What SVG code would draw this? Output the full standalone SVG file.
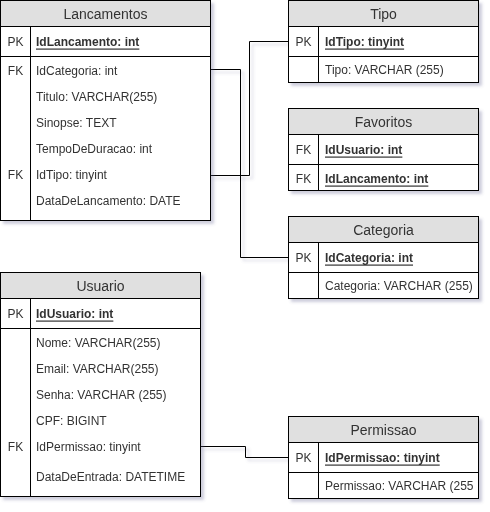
<svg xmlns="http://www.w3.org/2000/svg" width="490" height="512" viewBox="0 0 490 512">
<defs>
<filter id="sh" x="-10%" y="-10%" width="130%" height="130%">
<feDropShadow dx="3" dy="3" stdDeviation="1.5" flood-color="#5a5a8a" flood-opacity="0.3"/>
</filter>
</defs>
<style>
.tb{fill:#ffffff;stroke:#000000;stroke-width:1}
.hd{fill:#e0e0e0;stroke:#000000;stroke-width:1}
.ln{stroke:#000000;stroke-width:1;fill:none}
text{font-family:"Liberation Sans",Arial,Helvetica,sans-serif;font-size:12px;fill:#333333;dominant-baseline:central}
.h{font-size:14px;text-anchor:middle}
.k{text-anchor:middle}
.pk{font-weight:bold;text-decoration:underline}
.cn{stroke:#000000;stroke-width:1;fill:none}
</style>
<rect width="490" height="512" fill="#ffffff"/>

<g id="connectors" filter="url(#sh)">
<path class="cn" d="M210.5,69.5 H240.5 V257.5 H288.5"/>
<path class="cn" d="M210.5,175.5 H249.5 V41.5 H288.5"/>
<path class="cn" d="M200.5,446.5 H245.5 V457.5 H288.5"/>
</g>

<g id="Lancamentos" filter="url(#sh)">
<rect class="tb" x="0.5" y="0.5" width="210" height="220"/>
<rect class="hd" x="0.5" y="0.5" width="210" height="26"/>
<line class="ln" x1="0.5" y1="56.5" x2="210.5" y2="56.5"/>
<line class="ln" x1="30.5" y1="26.5" x2="30.5" y2="220.5"/>
<text class="h" x="105.5" y="14">Lancamentos</text>
<text class="k" x="15.5" y="41.5">PK</text>
<text class="pk" x="36" y="41.5">IdLancamento: int</text>
<text class="k" x="15.5" y="70.5">FK</text>
<text x="36" y="70.5">IdCategoria: int</text>
<text x="36" y="97">Titulo: VARCHAR(255)</text>
<text x="36" y="122.5">Sinopse: TEXT</text>
<text x="36" y="148.5">TempoDeDuracao: int</text>
<text class="k" x="15.5" y="174.5">FK</text>
<text x="36" y="174.5">IdTipo: tinyint</text>
<text x="36" y="201">DataDeLancamento: DATE</text>
</g>

<g id="Tipo" filter="url(#sh)">
<rect class="tb" x="288.5" y="0.5" width="190" height="82"/>
<rect class="hd" x="288.5" y="0.5" width="190" height="26"/>
<line class="ln" x1="288.5" y1="56.5" x2="478.5" y2="56.5"/>
<line class="ln" x1="318.5" y1="26.5" x2="318.5" y2="82.5"/>
<text class="h" x="383.5" y="14">Tipo</text>
<text class="k" x="303.5" y="41.5">PK</text>
<text class="pk" x="325" y="41.5">IdTipo: tinyint</text>
<text x="325" y="70">Tipo: VARCHAR (255)</text>
</g>

<g id="Favoritos" filter="url(#sh)">
<rect class="tb" x="288.5" y="108.5" width="190" height="82"/>
<rect class="hd" x="288.5" y="108.5" width="190" height="26"/>
<line class="ln" x1="288.5" y1="164.5" x2="478.5" y2="164.5"/>
<line class="ln" x1="318.5" y1="134.5" x2="318.5" y2="190.5"/>
<text class="h" x="383.5" y="122">Favoritos</text>
<text class="k" x="303.5" y="149.5">FK</text>
<text class="pk" x="325" y="149.5">IdUsuario: int</text>
<text class="k" x="303.5" y="178.5">FK</text>
<text class="pk" x="325" y="178.5">IdLancamento: int</text>
</g>

<g id="Categoria" filter="url(#sh)">
<rect class="tb" x="288.5" y="216.5" width="190" height="82"/>
<rect class="hd" x="288.5" y="216.5" width="190" height="26"/>
<line class="ln" x1="288.5" y1="272.5" x2="478.5" y2="272.5"/>
<line class="ln" x1="318.5" y1="242.5" x2="318.5" y2="298.5"/>
<text class="h" x="383.5" y="230">Categoria</text>
<text class="k" x="303.5" y="257.5">PK</text>
<text class="pk" x="325" y="257.5">IdCategoria: int</text>
<text x="325" y="286">Categoria: VARCHAR (255)</text>
</g>

<g id="Usuario" filter="url(#sh)">
<rect class="tb" x="0.5" y="272.5" width="200" height="224"/>
<rect class="hd" x="0.5" y="272.5" width="200" height="26"/>
<line class="ln" x1="0.5" y1="328.5" x2="200.5" y2="328.5"/>
<line class="ln" x1="30.5" y1="298.5" x2="30.5" y2="496.5"/>
<text class="h" x="100.5" y="286">Usuario</text>
<text class="k" x="15.5" y="313.5">PK</text>
<text class="pk" x="36" y="313.5">IdUsuario: int</text>
<text x="36" y="343">Nome: VARCHAR(255)</text>
<text x="36" y="369">Email: VARCHAR(255)</text>
<text x="36" y="395">Senha: VARCHAR (255)</text>
<text x="36" y="421">CPF: BIGINT</text>
<text class="k" x="15.5" y="447">FK</text>
<text x="36" y="447">IdPermissao: tinyint</text>
<text x="36" y="476.5">DataDeEntrada: DATETIME</text>
</g>

<g id="Permissao" filter="url(#sh)">
<rect class="tb" x="288.5" y="416.5" width="190" height="82"/>
<rect class="hd" x="288.5" y="416.5" width="190" height="26"/>
<line class="ln" x1="288.5" y1="472.5" x2="478.5" y2="472.5"/>
<line class="ln" x1="318.5" y1="442.5" x2="318.5" y2="498.5"/>
<text class="h" x="383.5" y="430">Permissao</text>
<text class="k" x="303.5" y="457.5">PK</text>
<text class="pk" x="325" y="457.5">IdPermissao: tinyint</text>
<text x="325" y="486">Permissao: VARCHAR (255</text>
</g>
</svg>
